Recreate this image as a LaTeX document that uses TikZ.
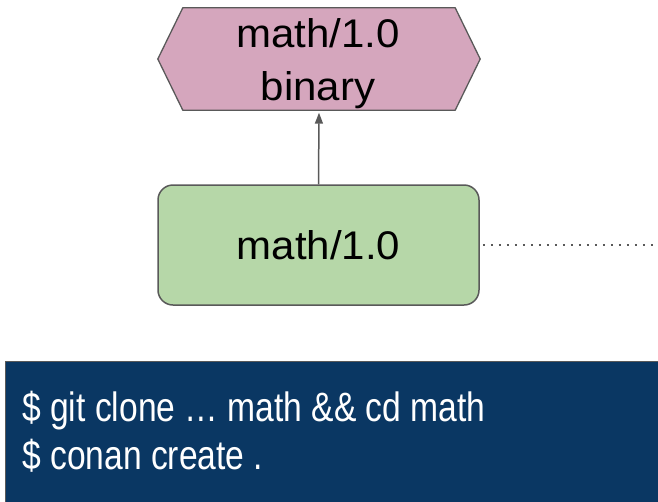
\documentclass[tikz,border=0pt]{standalone}
\usepackage{fontspec}
\setmainfont{Liberation Sans}
\usetikzlibrary{arrows.meta,calc}
\definecolor{pkgpink}{HTML}{D5A6BD}
\definecolor{pkggreen}{HTML}{B6D7A8}
\definecolor{edgegray}{HTML}{595959}
\definecolor{termblue}{HTML}{0A3763}
\begin{document}
\begin{tikzpicture}[x=1pt,y=-1pt,
  outline/.style={draw=edgegray,line width=1.5pt},
  bigtext/.style={font=\fontsize{40}{53}\selectfont,text=black,inner sep=0pt},
  termtext/.style={font=\fontsize{41}{49}\selectfont,text=white,inner sep=0pt}]
  \useasboundingbox (0,0) rectangle (658,501);
  % binary package: hexagon around a fixed frame
  \node[minimum width=272pt,minimum height=102pt,inner sep=0pt] (bin) at (319,59) {};
  \filldraw[fill=pkgpink,draw=edgegray,line width=1.3pt,line join=round]
    (bin.north west) -- (bin.north east) -- ($(bin.east)+(25,0)$)
    -- (bin.south east) -- (bin.south west) -- ($(bin.west)+(-25,0)$) -- cycle;
  \node[bigtext,anchor=base] (binname) at (318,47) {\scalebox{1.05}[1]{math/1.0}};
  \node[bigtext,anchor=base] (binkind) at (318,100) {\scalebox{1.05}[1]{binary}};
  % recipe node
  \node[bigtext,outline,fill=pkggreen,rounded corners=15pt,minimum width=321pt,
    minimum height=120pt] (rec) at (318.5,245) {\scalebox{1.05}[1]{math/1.0}};
  % build arrow
  \draw[edgegray,line width=1.5pt,-{Triangle[length=11pt,width=8pt]}]
    (rec.north) -- ($(bin.south)+(0,2.5)$);
  % dotted link leaving to the right
  \coordinate (exit) at (660,245);
  \draw[edgegray,line width=2pt,dash pattern=on 2pt off 6pt] ($(rec.east)+(3,0)$) -- (exit);
  % terminal box
  \fill[termblue] (5,361) rectangle (660,503);
  \draw[edgegray,line width=1pt] (5,503) -- (5,361) -- (660,361);
  \node[termtext,anchor=base west] (cmd) at (22,421)
    {\scalebox{0.82}[1]{\$ git clone … math \&\& cd math}};
  \node[termtext,anchor=base west] (cmd2) at (22,469)
    {\scalebox{0.82}[1]{\$ conan create .}};
\end{tikzpicture}
\end{document}
